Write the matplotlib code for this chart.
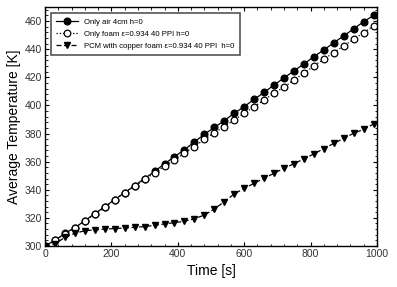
import matplotlib
matplotlib.use("Agg")
import matplotlib.pyplot as plt
from matplotlib.ticker import MultipleLocator

plt.rcParams['font.family'] = ['Liberation Sans', 'DejaVu Sans']

# time [s]
time_s = list(range(0, 1000, 30))

only_air = [300, 304, 309, 313, 318, 323, 328, 333, 338, 343, 348, 353, 358.5,
            363.5, 368.5, 374, 379.5, 384.3, 389.2, 394.4, 399.1, 404.4, 409.2,
            414.6, 419.5, 424.6, 429.5, 434.7, 439.5, 444.6, 449.5, 454.5, 459.6, 464]
only_foam = [300, 304, 308.5, 313, 318, 322.5, 327.5, 333, 337.9, 342.5, 347.3, 352,
             356.8, 361.2, 366, 370.7, 375.8, 380.5, 384.9, 389.7, 394.4, 399.1,
             403.9, 408.7, 413, 418.1, 422.9, 428.1, 432.9, 437.6, 442.3, 447.1,
             451.8, 456.6]
pcm_foam = [300, 301.4, 306.2, 309, 310.9, 311.5, 312, 312.4, 312.8, 313.3, 313.8,
            314.7, 315.7, 316.6, 317.6, 319.4, 322, 326.3, 331.5, 337, 341, 344.6,
            348.2, 351.7, 355.3, 358.5, 362, 365.5, 369.3, 373, 376.6, 380.2, 383,
            386.8]

labels = ['Only air 4cm h=0',
          'Only foam \u03b5=0.934 40 PPI h=0',
          'PCM with copper foam \u03b5=0.934 40 PPI  h=0']

fig = plt.figure(figsize=(3.97, 2.87), dpi=100)
ax = fig.add_axes([0.1134, 0.1429, 0.8362, 0.8327])

ax.plot(time_s, only_air, color='black', linestyle='-', linewidth=0.9,
        marker='o', markersize=4.8, markerfacecolor='black', label=labels[0])
ax.plot(time_s, only_foam, color='black', linestyle=':', linewidth=0.9,
        marker='o', markersize=4.8, markerfacecolor='white', markeredgewidth=0.9,
        label=labels[1])
ax.plot(time_s, pcm_foam, color='black', linestyle=(0, (4, 2)), linewidth=0.9,
        marker='v', markersize=4.8, markerfacecolor='black', label=labels[2])

ax.set_xlim(0, 1000)
ax.set_ylim(300, 470)
ax.xaxis.set_major_locator(MultipleLocator(200))
ax.xaxis.set_minor_locator(MultipleLocator(40))
ax.yaxis.set_major_locator(MultipleLocator(20))
ax.yaxis.set_minor_locator(MultipleLocator(4))
ax.tick_params(which='both', direction='in', top=True, right=True,
               labelsize=7.5, labelcolor='#333333', pad=2)
ax.tick_params(which='major', length=3, width=0.8)
ax.tick_params(which='minor', length=1.8, width=0.6)
for s in ax.spines.values():
    s.set_linewidth(1.0)

ax.set_xlabel('Time [s]', fontsize=10, labelpad=4)
ax.set_ylabel('Average Temperature [K]', fontsize=10, labelpad=3)

leg = ax.legend(loc='upper left', bbox_to_anchor=(0.005, 0.99), fontsize=5.6,
                fancybox=False, framealpha=1, edgecolor='#555555',
                handlelength=2.8, handletextpad=0.8, borderpad=0.7,
                labelspacing=0.55)
leg.get_frame().set_linewidth(1.2)

fig.savefig('out.png', dpi=100)
